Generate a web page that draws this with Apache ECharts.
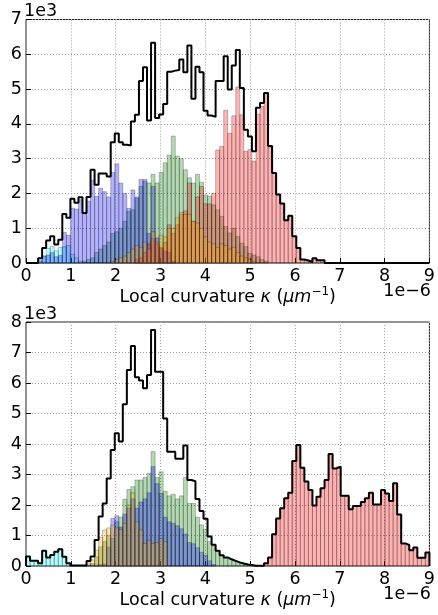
<!DOCTYPE html>
<html><head><meta charset="utf-8">
<script src="https://cdn.jsdelivr.net/npm/echarts@6/dist/echarts.min.js"></script>
<style>html,body{margin:0;padding:0;background:#fff}#c{width:438px;height:615px}</style>
</head><body><div id="c"></div><script>
// Histogram bins: 100 bins of width 0.09 (x in units of 1e-6), counts in units of 1e3
const BIN = 0.09, NBINS = 100;
const xTickMax = 9;
const topYMax = 7, botYMax = 8;

// ---------- top panel ----------
const topTotal = [0,0,0,0.14,0.43,0.65,0.77,0.53,0.67,1.41,
 1.3,1.85,1.73,1.89,1.44,1.9,2.68,2.25,2.57,2.57,
 2.49,3.47,3.72,3.47,3.4,3.38,4.07,4.26,5.23,5.63,
 4.1,6.33,4.17,4.27,4.57,5.5,5.53,5.55,5.85,5.48,
 6.25,4.72,5.64,5.48,4.38,4.24,4.2,5.23,5.23,5.94,
 4.99,5.68,6.12,5.03,3.83,3.64,3.21,4.46,4.6,4.89,
 3.36,2.59,1.97,1.71,1.23,1.36,0.77,0.43,0.1,0.07,
 0.03,0.14,0.08,0.08];
const topCyan = [0,0,0,0.08,0.2,0.42,0.47,0.35,0.45,0.47,0.5,0.25,0.15,0.05];
const topBlue = [0,0,0,0.05,0.2,0.23,0.3,0.18,0.22,0.88,
 0.8,1.58,1.55,1.82,1.4,1.78,2.38,1.92,2.15,2.05,
 1.9,2.6,2.85,2.3,2.0,1.57,2.1,1.9,2.4,2.4,
 0.85,2.2,0.72,0.42,0.34,0.3,0.05];
const topGreen = [0,0,0,0,0,0,0,0,0,0,
 0,0,0,0,0.05,0.1,0.15,0.3,0.4,0.5,
 0.6,0.85,0.9,1.0,1.2,1.48,1.53,1.86,2.2,2.35,
 2.3,2.55,2.3,2.6,2.88,3.1,3.65,3.07,3.0,2.68,
 2.45,2.3,2.55,2.32,1.95,1.92,1.67,1.53,1.34,1.05,
 0.86,1.0,0.76,0.57,0.47,0.28,0.23,0.18,0.1,0.05];
const topOrange = [0,0,0,0,0,0,0,0,0,0,
 0,0,0,0,0,0,0,0,0,0,
 0,0.05,0.1,0.15,0.2,0.3,0.4,0.5,0.45,0.6,
 0.4,0.9,0.6,0.8,0.75,1.0,1.0,1.3,1.45,1.4,
 1.4,1.2,1.15,1.0,0.75,0.6,0.55,0.45,0.55,0.5,
 0.4,0.45,0.3,0.2,0.15,0.1,0.05];
const topRed = [0,0,0,0,0,0,0,0,0,0,
 0,0,0,0,0,0,0,0,0,0,
 0,0,0,0,0,0,0,0.1,0.15,0.3,
 0.55,0.7,0.55,0.45,0.6,1.1,0.85,1.1,1.4,1.5,
 2.3,1.2,1.9,2.2,1.7,1.7,2.0,3.25,3.35,4.39,
 3.73,4.23,5.06,4.26,3.21,3.26,2.93,4.28,4.5,4.84,
 3.33,2.57,1.95,1.7,1.22,1.35,0.77,0.43,0.1,0.07,
 0.03,0.14,0.08,0.08];

// ---------- bottom panel ----------
const botTotal = [0.31,0.17,0.17,0.09,0.5,0.28,0.36,0.47,0.55,0.3,
 0.09,0.02,0.02,0.02,0.02,0.16,0.31,0.85,1.62,2.05,
 2.87,3.8,4.35,4.08,5.3,6.43,7.21,6.19,6.08,5.83,
 6.26,7.74,6.37,6.37,4.84,3.75,3.75,3.52,3.52,3.95,
 2.82,2.78,2.2,1.8,1.55,0.97,0.7,0.5,0.35,0.28,
 0.22,0.17,0.12,0.08,0.05,0.03,0.01,0.01,0.01,0.09,
 0.28,1.04,1.56,1.89,2.22,2.4,3.44,3.97,3.22,2.77,
 2.49,1.98,2.27,2.55,2.82,3.67,3.2,3.26,2.3,2.3,
 1.86,1.97,1.97,2.1,2.22,2.4,2.02,2.02,2.49,2.38,
 2.13,2.71,1.69,0.74,0.69,0.52,0.61,0.27,0.27,0.44];
const botCyan = [0.31,0.17,0.17,0.09,0.5,0.28,0.36,0.47,0.55,0.3,0.09,0.02];
const botOrange = [0,0,0,0,0,0,0,0,0,0,
 0,0,0,0,0.02,0.1,0.2,0.52,0.94,1.18,
 1.25,1.34,1.25,1.2,1.4,2.0,2.4,1.45,1.18,0.74,
 0.85,0.74,0.77,0.9,0.8];
const botBlue = [0,0,0,0,0,0,0,0,0,0,
 0,0,0,0,0,0.03,0.03,0.03,0.05,0.07,
 0.62,1.56,1.65,1.28,1.7,1.9,2.2,1.9,2.1,2.2,
 2.4,3.26,2.7,2.38,1.6,1.45,1.4,1.32,1.22,1.05,
 0.77,0.73,0.6,0.45,0.35,0.17,0.05];
const botGreen = [0,0,0,0,0,0,0,0,0,0,
 0,0,0,0,0,0.03,0.08,0.3,0.63,0.8,
 1.0,0.9,1.45,1.6,2.19,2.51,2.6,2.82,2.82,2.9,
 3.04,3.75,2.9,3.09,2.45,2.3,2.35,2.2,2.3,2.9,
 2.05,2.05,1.6,1.35,1.2,0.8,0.65,0.5,0.35,0.28,
 0.22,0.17,0.12,0.08,0.05,0.03,0.01];
const botRed = [0,0,0,0,0,0,0,0,0,0,
 0,0,0,0,0,0,0,0,0,0,
 0,0,0,0,0,0,0,0,0,0,
 0,0,0,0,0,0,0,0,0,0,
 0,0,0,0,0,0,0,0,0,0,
 0,0,0,0,0,0,0,0,0.01,0.09,
 0.28,1.04,1.56,1.89,2.22,2.4,3.44,3.97,3.22,2.77,
 2.49,1.98,2.27,2.55,2.82,3.67,3.2,3.26,2.3,2.3,
 1.86,1.97,1.97,2.1,2.22,2.4,2.02,2.02,2.49,2.38,
 2.13,2.71,1.69,0.74,0.69,0.52,0.61,0.27,0.27,0.44];

const COLORS = {
  cyan: 'rgba(0,255,255,0.3)',
  blue: 'rgba(0,0,255,0.3)',
  green: 'rgba(0,128,0,0.3)',
  red: 'rgba(255,0,0,0.3)',
  orange: 'rgba(255,165,0,0.3)'
};
const FONT = 'DejaVu Sans';
const FS = 17.5;

function full(a){ const r = a.slice(); while (r.length < NBINS) r.push(0); return r; }
function barData(vals){
  return full(vals).map((v,k)=>[k*BIN,(k+1)*BIN,v]).filter(d=>d[2]>0);
}
function stepData(vals){
  const f = full(vals);
  const pts = [[0,0]];
  f.forEach((v,k)=>pts.push([k*BIN, v]));
  pts.push([NBINS*BIN, f[NBINS-1]]);
  pts.push([NBINS*BIN, 0]);
  return pts;
}
function barSeries(vals, color, gi){
  return {
    type:'custom', xAxisIndex:gi, yAxisIndex:gi,
    data: barData(vals),
    encode:{x:[0,1], y:2},
    renderItem: function(params, api){
      const x0 = api.value(0), x1 = api.value(1), h = api.value(2);
      const p0 = api.coord([x0, h]), p1 = api.coord([x1, 0]);
      return {type:'rect',
        shape:{x:p0[0], y:p0[1], width:p1[0]-p0[0], height:p1[1]-p0[1]},
        style:{fill:color, stroke:'rgba(0,0,0,0.3)', lineWidth:0.8}};
    },
    silent:true, animation:false
  };
}
function stepSeries(vals, gi){
  return {type:'line', xAxisIndex:gi, yAxisIndex:gi, data:stepData(vals), step:'end',
    showSymbol:false, symbol:'none', lineStyle:{color:'#000', width:2}, z:10, animation:false, silent:true};
}

const xName = '{a|Local curvature }{b|κ}{a| (}{b|μm}{c|−1}{a|)}';
const nameRich = {
  a:{fontSize:FS, fontFamily:FONT, color:'#000', lineHeight:22},
  b:{fontSize:FS, fontFamily:FONT, fontStyle:'italic', color:'#000', lineHeight:22},
  c:{fontSize:12, fontFamily:FONT, color:'#000', verticalAlign:'top', lineHeight:22, padding:[0,0,6,0]}
};
function xAxisCfg(gi){
  return {gridIndex:gi, type:'value', min:0, max:xTickMax, interval:1,
    axisLine:{show:false},
    axisTick:{show:true, inside:true, length:5, lineStyle:{color:'#000'}},
    axisLabel:{fontSize:FS, color:'#000', fontFamily:FONT, margin:4},
    splitLine:{show:true, lineStyle:{color:'#a0a0a0', type:[1,2], width:1}},
    name:xName, nameLocation:'middle', nameGap:23,
    nameTextStyle:{rich:nameRich}
  };
}
function yAxisCfg(gi, max){
  return {gridIndex:gi, type:'value', min:0, max:max, interval:1,
    axisLine:{show:false},
    axisTick:{show:true, inside:true, length:5, lineStyle:{color:'#000'}},
    axisLabel:{fontSize:FS, color:'#000', fontFamily:FONT, margin:4},
    splitLine:{show:true, lineStyle:{color:'#a0a0a0', type:[1,2], width:1}}
  };
}

const chart = echarts.init(document.getElementById('c'), null, {renderer:'canvas'});
chart.setOption({
  backgroundColor:'#fff',
  animation:false,
  grid:[
    {left:26, top:19.5, width:405, height:243.5, show:true, borderColor:'#222', borderWidth:1, backgroundColor:'rgba(0,0,0,0)'},
    {left:26, top:322, width:405, height:244, show:true, borderColor:'#222', borderWidth:1, backgroundColor:'rgba(0,0,0,0)'}
  ],
  xAxis:[xAxisCfg(0), xAxisCfg(1)],
  yAxis:[yAxisCfg(0, topYMax), yAxisCfg(1, botYMax)],
  graphic:[
    {type:'text', left:24, top:2, style:{text:'1e3', fontSize:FS, fontFamily:FONT, fill:'#000'}},
    {type:'text', left:24, top:305, style:{text:'1e3', fontSize:FS, fontFamily:FONT, fill:'#000'}},
    {type:'text', right:7, top:282, style:{text:'1e−6', fontSize:FS, fontFamily:FONT, fill:'#000'}},
    {type:'text', right:7, top:585, style:{text:'1e−6', fontSize:FS, fontFamily:FONT, fill:'#000'}}
  ],
  series:[
    barSeries(topCyan, COLORS.cyan, 0),
    barSeries(topGreen, COLORS.green, 0),
    barSeries(topBlue, COLORS.blue, 0),
    barSeries(topRed, COLORS.red, 0),
    barSeries(topOrange, COLORS.orange, 0),
    stepSeries(topTotal, 0),
    barSeries(botCyan, COLORS.cyan, 1),
    barSeries(botGreen, COLORS.green, 1),
    barSeries(botBlue, COLORS.blue, 1),
    barSeries(botRed, COLORS.red, 1),
    barSeries(botOrange, COLORS.orange, 1),
    stepSeries(botTotal, 1)
  ]
});
</script></body></html>
